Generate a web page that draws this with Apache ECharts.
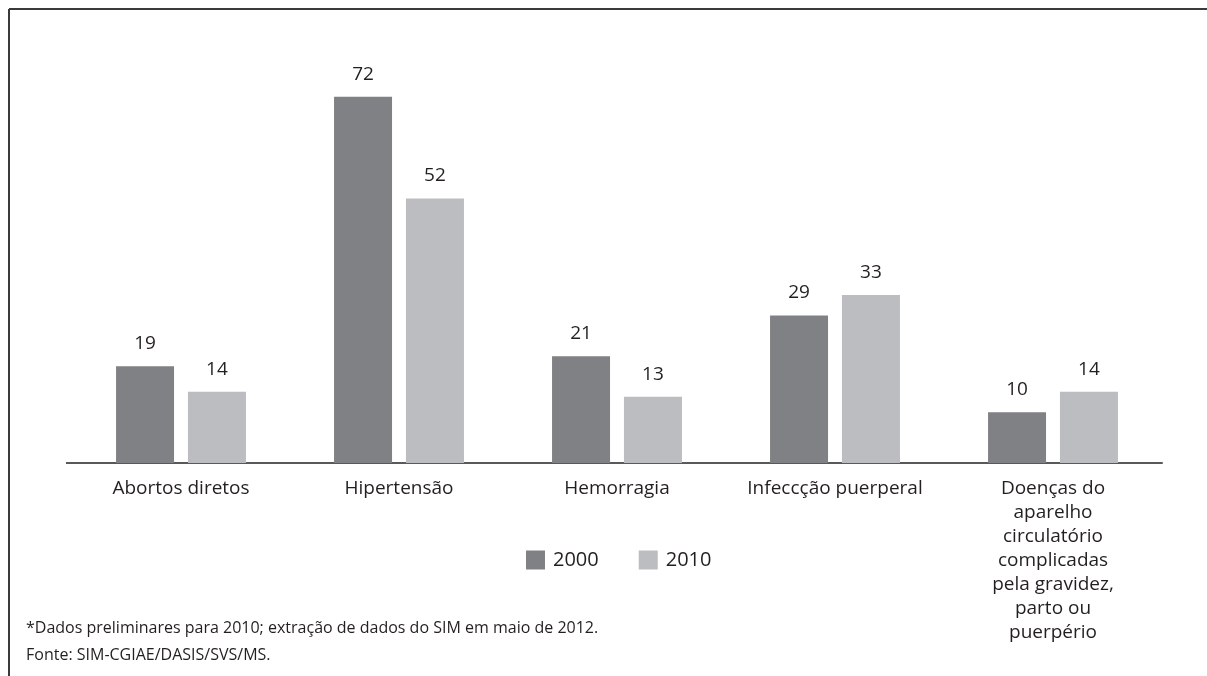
<!DOCTYPE html>
<html>
<head>
<meta charset="utf-8">
<script src="https://cdn.jsdelivr.net/npm/echarts@6/dist/echarts.min.js"></script>
<style>
html,body{margin:0;padding:0;background:#fff;}
#chart{width:1207px;height:676px;}
</style>
</head>
<body>
<div id="chart"></div>
<script>
const categories = ['Abortos diretos', 'Hipertensão', 'Hemorragia', 'Infeccção puerperal', 'Doenças do\naparelho\ncirculatório\ncomplicadas\npela gravidez,\nparto ou\npuerpério'];
const seriesNames = ['2000', '2010'];
const values2000 = [19, 72, 21, 29, 10];
const values2010 = [14, 52, 13, 33, 14];
const footnotes = ['*Dados preliminares para 2010; extração de dados do SIM em maio de 2012.', 'Fonte: SIM-CGIAE/DASIS/SVS/MS.'];

const FONT = 'Open Sans';
const TXT = '#231f20';
const chart = echarts.init(document.getElementById('chart'), null, {renderer: 'canvas'});
const labelCfg = {show: true, position: 'top', distance: 13, color: TXT, fontFamily: FONT, fontSize: 19};
chart.setOption({
  animation: false,
  backgroundColor: '#fff',
  grid: {left: 72, right: 45, top: 56, bottom: 213, containLabel: false},
  legend: {
    data: seriesNames, left: 526, top: 550, padding: 0, itemWidth: 19, itemHeight: 19, itemGap: 40,
    icon: 'rect',
    textStyle: {color: TXT, fontFamily: FONT, fontSize: 20, padding: [0, 0, 0, 3]}
  },
  xAxis: {
    type: 'category', data: categories,
    axisLine: {show: true, lineStyle: {color: '#58595b', width: 2}},
    axisTick: {show: false},
    axisLabel: {color: TXT, fontFamily: FONT, fontSize: 19, lineHeight: 24, margin: 14, interval: 0}
  },
  yAxis: {type: 'value', min: 0, max: 80, show: false, splitLine: {show: false}},
  series: [
    {name: seriesNames[0], type: 'bar', data: values2000, barWidth: 58, barGap: '24%', itemStyle: {color: '#808184'}, label: labelCfg},
    {name: seriesNames[1], type: 'bar', data: values2010, barWidth: 58, itemStyle: {color: '#bcbdc0'}, label: labelCfg}
  ],
  graphic: [
    {type: 'line', shape: {x1: 9, y1: 9, x2: 1207, y2: 9}, style: {stroke: '#3a3a3a', lineWidth: 2}},
    {type: 'line', shape: {x1: 9, y1: 9, x2: 9, y2: 676}, style: {stroke: '#3a3a3a', lineWidth: 2}},
    {type: 'line', shape: {x1: 66, y1: 463, x2: 73, y2: 463}, style: {stroke: '#58595b', lineWidth: 2}},
    {type: 'text', left: 26, top: 620, style: {text: footnotes[0], fill: TXT, font: '16px "Open Sans"'}},
    {type: 'text', left: 26, top: 647, style: {text: footnotes[1], fill: TXT, font: '16px "Open Sans"'}}
  ]
});
</script>
</body>
</html>
